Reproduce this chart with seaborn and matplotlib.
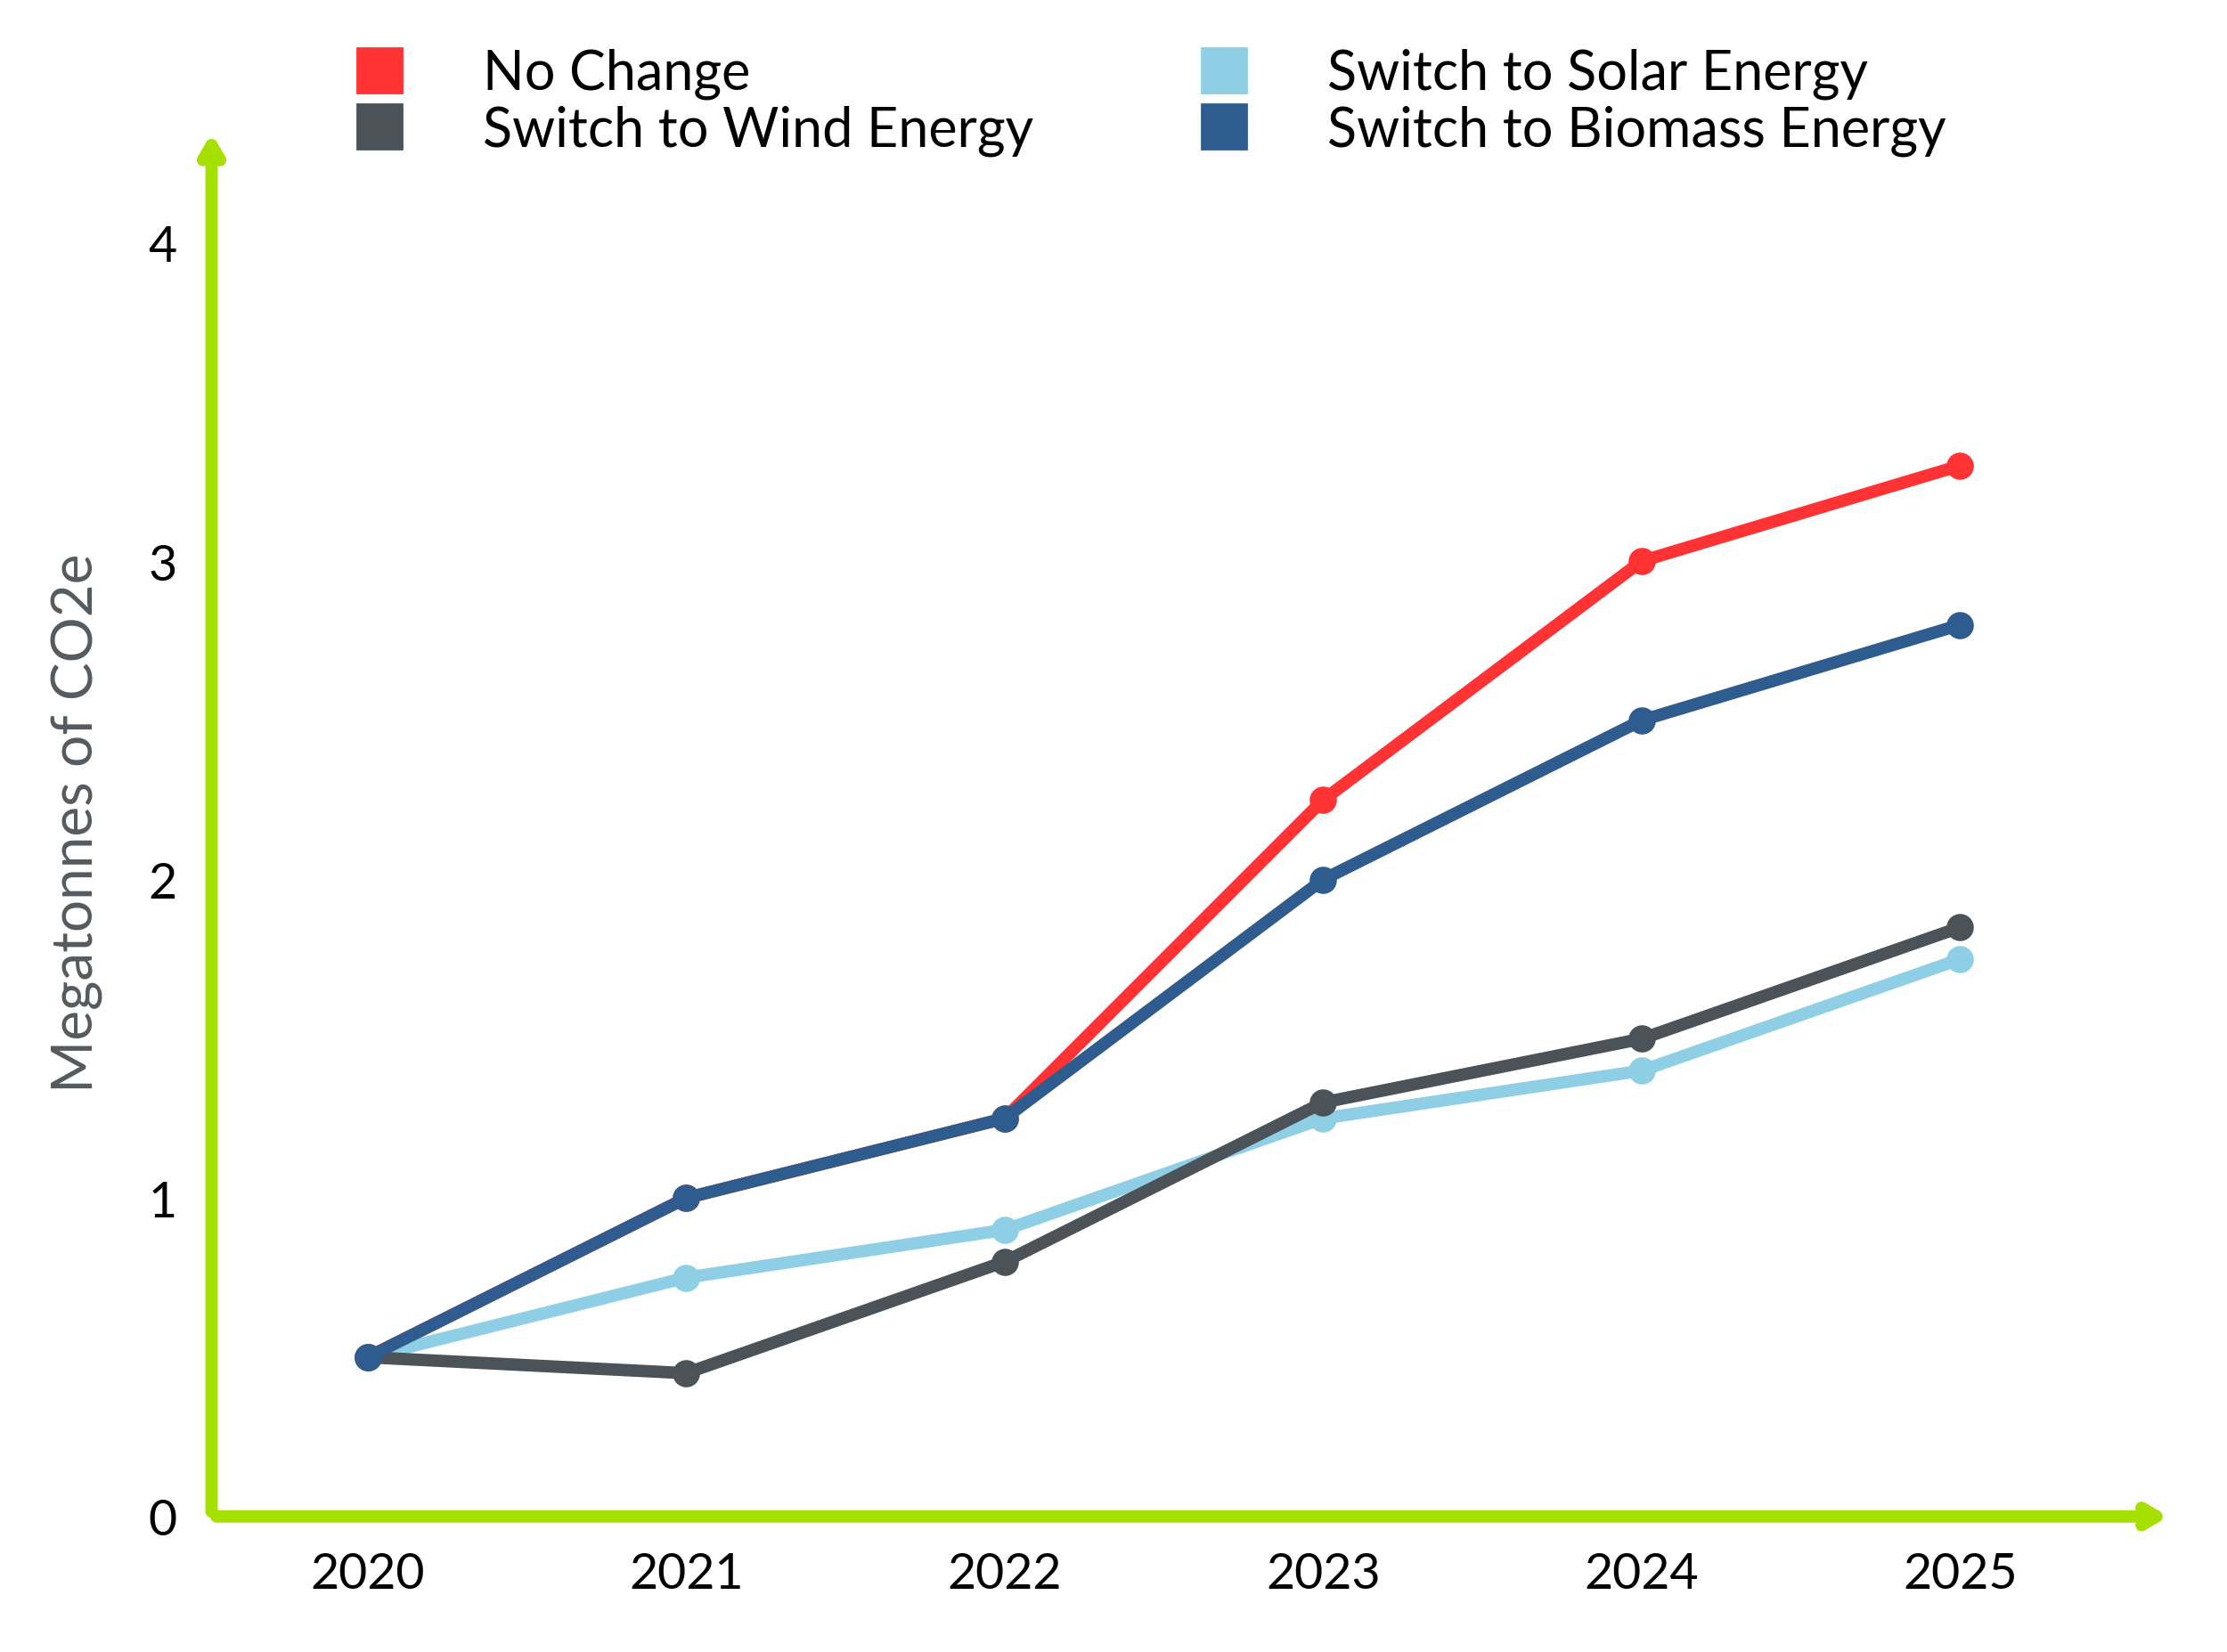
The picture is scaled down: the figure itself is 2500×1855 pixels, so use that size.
# draw.py.


import matplotlib.pyplot as plt   # para plots
import numpy as np                      # numerical python
import pandas as pd
import seaborn as sns                   # para plots


def make_df():
	years=[2020, 2021, 2022, 2023, 2024, 2025]
	data={'No Change': [0.5, 1.0, 1.25, 2.25, 3.0, 3.3],
		'Switch to Solar Energy': [0.5, 0.75, 0.9, 1.25, 1.4, 1.75],
		'Switch to Wind Energy': [0.5, 0.45, 0.8, 1.3, 1.5, 1.85],
		'Switch to Biomass Energy': [0.5, 1.0, 1.25, 2.0, 2.5, 2.8]}
	df=pd.DataFrame(data, index=years)
	df.index.name='Year'
	return df.reset_index().melt(id_vars='Year', var_name='Scenario', value_name='CO2e')



def line_plot(df):
	plt.rcParams['font.family']=['Lato', 'DejaVu Sans']
	plt.figure(figsize=(12.5, 9.28), dpi=200)
	ax=plt.axes([0.095, 0.082, 0.881, 0.84])
	palette={'No Change': '#FF3333', 'Switch to Solar Energy': '#8ECFE6',
		'Switch to Wind Energy': '#4B5359', 'Switch to Biomass Energy': '#2E5C8E'}
	order=['No Change', 'Switch to Solar Energy', 'Switch to Wind Energy', 'Switch to Biomass Energy']
	for name in order:
		sub=df[df['Scenario']==name]
		sns.lineplot(x=sub['Year'], y=sub['CO2e'], color=palette[name], linewidth=5, marker='o', markersize=11, markeredgewidth=0, ax=ax)
	plt.xlim(2019.51, 2025.67)
	plt.ylim(0, 4.36)
	plt.xticks([2020, 2021, 2022, 2023, 2024, 2025], fontsize=20)
	plt.yticks([0, 1, 2, 3, 4], fontsize=20)
	plt.tick_params(length=0, pad=14)
	plt.xlabel('')
	plt.ylabel('Megatonnes of CO2e', fontsize=23, color='#555A5E', labelpad=18)
	for s in ax.spines.values():
		s.set_visible(False)
	green='#A6E000'
	plt.annotate('', xy=(1.0, 0.0), xytext=(0, 0), xycoords='axes fraction',
		arrowprops=dict(arrowstyle='->,head_length=0.6,head_width=0.35', color=green, lw=5))
	plt.annotate('', xy=(0.0, 1.0), xytext=(0, 0), xycoords='axes fraction',
		arrowprops=dict(arrowstyle='->,head_length=0.6,head_width=0.35', color=green, lw=5))
	labels=['No Change', 'Switch to Wind Energy', 'Switch to Solar Energy', 'Switch to Biomass Energy']  # filled by column
	handles=[plt.Line2D([], [], marker='s', linestyle='', color=palette[n], markersize=18) for n in labels]
	plt.figlegend(handles, labels, loc='upper center', bbox_to_anchor=(0.51, 1.0), ncol=2, frameon=False,
		fontsize=22, handletextpad=0.9, columnspacing=2.5, labelspacing=0.1)
	plt.savefig('out.png')
	return ''



def draw(df):
	line_plot(df)


draw(make_df())
